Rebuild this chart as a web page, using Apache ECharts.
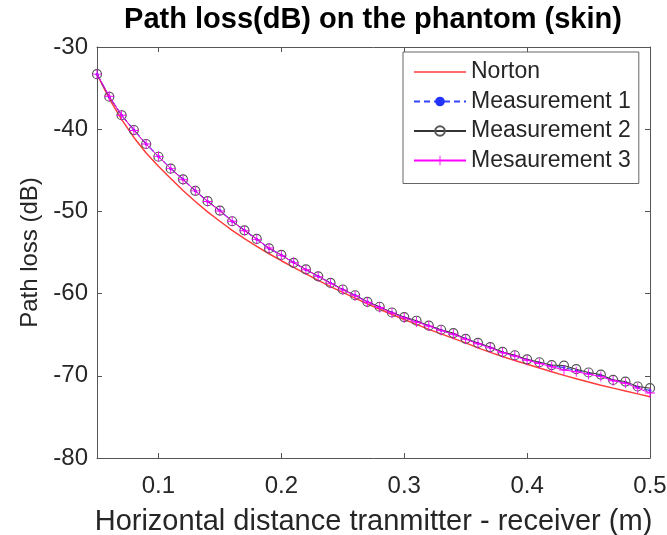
<!DOCTYPE html>
<html>
<head>
<meta charset="utf-8">
<script src="https://cdn.jsdelivr.net/npm/echarts@6/dist/echarts.min.js"></script>
<style>
html,body{margin:0;padding:0;background:#fff;}
#c{width:667px;height:535px;}
</style>
</head>
<body>
<div id="c"></div>
<script>
// Horizontal distance (m)
const dist = [0.05,0.06,0.07,0.08,0.09,0.10,0.11,0.12,0.13,0.14,0.15,0.16,0.17,0.18,0.19,0.20,0.21,0.22,0.23,0.24,0.25,0.26,0.27,0.28,0.29,0.30,0.31,0.32,0.33,0.34,0.35,0.36,0.37,0.38,0.39,0.40,0.41,0.42,0.43,0.44,0.45,0.46,0.47,0.48,0.49,0.50];
const norton = [-33.3,-36.3,-38.8,-41.0,-42.9,-44.5,-46.0,-47.45,-48.8,-50.05,-51.2,-52.3,-53.3,-54.25,-55.15,-56.0,-56.8,-57.6,-58.4,-59.15,-59.85,-60.55,-61.25,-61.9,-62.55,-63.15,-63.75,-64.35,-64.9,-65.45,-66.0,-66.6,-67.15,-67.65,-68.15,-68.6,-69.05,-69.5,-69.95,-70.35,-70.75,-71.15,-71.5,-71.85,-72.2,-72.55];
const meas1 = [-33.3,-36.05,-38.3,-40.1,-41.8,-43.3,-44.8,-46.1,-47.5,-48.8,-49.9,-51.2,-52.3,-53.4,-54.5,-55.3,-56.2,-57.1,-57.9,-58.7,-59.5,-60.2,-61.0,-61.65,-62.3,-62.9,-63.4,-63.9,-64.45,-64.9,-65.5,-66.05,-66.55,-67.15,-67.55,-68.05,-68.4,-68.8,-69.0,-69.35,-69.7,-70.0,-70.55,-70.8,-71.4,-71.8];
const meas2 = [-33.3,-36.05,-38.3,-40.1,-41.8,-43.35,-44.8,-46.1,-47.5,-48.75,-49.9,-51.2,-52.3,-53.35,-54.5,-55.3,-56.25,-57.05,-57.9,-58.7,-59.5,-60.2,-61.0,-61.6,-62.3,-62.85,-63.3,-63.9,-64.4,-64.8,-65.5,-66.0,-66.5,-67.1,-67.5,-68.0,-68.35,-68.7,-68.75,-69.2,-69.6,-69.85,-70.5,-70.7,-71.3,-71.5];
const meas3 = [-33.3,-36.0,-38.3,-40.15,-41.8,-43.3,-44.8,-46.15,-47.5,-48.8,-49.95,-51.2,-52.35,-53.4,-54.45,-55.35,-56.2,-57.1,-57.9,-58.75,-59.55,-60.25,-61.05,-61.7,-62.35,-62.95,-63.45,-63.95,-64.5,-64.95,-65.55,-66.1,-66.6,-67.2,-67.6,-68.1,-68.5,-68.9,-69.3,-69.5,-69.8,-70.1,-70.6,-70.9,-71.5,-72.1];
const seriesNames = ['Norton','Measurement 1','Measurement 2','Mesaurement 3'];
const xTicks = [0.1,0.2,0.3,0.4,0.5];
const yTicks = [-80,-70,-60,-50,-40,-30];

const pairs = v => dist.map((d,i)=>[d,v[i]]);
const FONT = '"Liberation Sans", Arial, Helvetica, sans-serif';
const TXT = '#262626';
const FRAME = '#555';
const plus = 'path://M-0.09,-1 L0.09,-1 L0.09,-0.09 L1,-0.09 L1,0.09 L0.09,0.09 L0.09,1 L-0.09,1 L-0.09,0.09 L-1,0.09 L-1,-0.09 L-0.09,-0.09 Z';
const lineIcon = 'path://M0,0 L100,0 L100,3 L0,3 Z';

const chart = echarts.init(document.getElementById('c'), null, {renderer:'canvas'});
const xBase = {type:'value', min:0.05, max:0.5, splitLine:{show:false},
  axisLine:{show:true, lineStyle:{color:FRAME, width:1}},
  axisTick:{show:true, inside:true, length:5, customValues:xTicks, lineStyle:{color:FRAME}}};
const yBase = {type:'value', min:-80, max:-30, interval:10, splitLine:{show:false},
  axisLine:{show:true, onZero:false, lineStyle:{color:FRAME, width:1}},
  axisTick:{show:true, inside:true, length:5, lineStyle:{color:FRAME}}};

chart.setOption({
  animation:false,
  backgroundColor:'#fff',
  textStyle:{fontFamily:FONT},
  title:{text:'Path loss(dB) on the phantom (skin)', left:368, top:0, textAlign:'center',
    textStyle:{fontFamily:FONT, fontWeight:'bold', fontSize:29, color:'#000'}},
  grid:{left:97, right:17, top:47, bottom:77, containLabel:false, outerBoundsMode:'none'},
  legend:{orient:'vertical', left:403, top:52, padding:[8,8,11,10], itemGap:5.5,
    itemWidth:52, itemHeight:12, backgroundColor:'#fff', borderColor:'#666', borderWidth:1,
    textStyle:{fontFamily:FONT, fontSize:23, color:TXT, lineHeight:24},
    data:[{name:seriesNames[0], icon:lineIcon}, seriesNames[1], seriesNames[2], seriesNames[3]]},
  xAxis:[
    Object.assign({}, xBase, {position:'bottom',
      axisLabel:{show:true, customValues:xTicks, margin:16, fontSize:24, color:TXT, fontFamily:FONT},
      name:'Horizontal distance tranmitter - receiver (m)', nameLocation:'middle', nameGap:49,
      nameTextStyle:{fontSize:29, color:TXT, fontFamily:FONT}}),
    Object.assign({}, xBase, {position:'top', axisLabel:{show:false}})
  ],
  yAxis:[
    Object.assign({}, yBase, {position:'left',
      axisLabel:{show:true, margin:9, fontSize:24, color:TXT, fontFamily:FONT},
      name:'Path loss (dB)', nameLocation:'middle', nameGap:52,
      nameTextStyle:{fontSize:24, color:TXT, fontFamily:FONT}}),
    Object.assign({}, yBase, {position:'right', axisLabel:{show:false}})
  ],
  series:[
    {name:seriesNames[0], type:'line', data:pairs(norton), showSymbol:false, symbol:'none',
      lineStyle:{color:'#ff3b3b', width:1.5}, itemStyle:{color:'#ff3b3b'}, z:2},
    {name:seriesNames[1], type:'line', data:pairs(meas1), symbol:'circle', symbolSize:3,
      lineStyle:{color:'#3344ff', width:1.2, type:[6,4]}, itemStyle:{color:'#2233ff'}, z:3},
    {name:seriesNames[2], type:'line', data:pairs(meas2), symbol:'circle', symbolSize:9,
      lineStyle:{color:'#333', width:1}, itemStyle:{color:'rgba(0,0,0,0)', borderColor:'#555', borderWidth:1.2}, z:4},
    {name:seriesNames[3], type:'line', data:pairs(meas3), symbol:plus, symbolSize:10,
      lineStyle:{color:'#ff00ff', width:1}, itemStyle:{color:'#ff00ff'}, z:5}
  ]
});
</script>
</body>
</html>
